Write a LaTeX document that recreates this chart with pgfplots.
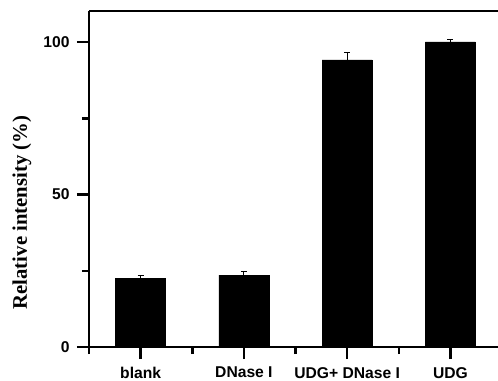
\documentclass[border=0pt]{standalone}
\usepackage{pgfplots}
\pgfplotsset{compat=1.18}
\usepackage{fontspec}
\setmainfont{Liberation Sans}
\newfontfamily\timesf{Liberation Serif}
\begin{document}
\begin{tikzpicture}
\begin{axis}[
  name=ax,
  scale only axis,
  width=409bp, height=336bp,
  xmin=0.5, xmax=4.46,
  ymin=0, ymax=110.2,
  axis x line=box, axis y line=left,
  axis line style={line width=2.5bp, -},
  xtick={1,2,3,4},
  xticklabels={blank,DNase I,UDG+ DNase I,UDG},
  minor xtick={0.5,1.5,2.5,3.5,4.5},
  ytick={0,50,100},
  minor ytick={25,75},
  xtick pos=bottom, ytick pos=left,
  tick align=outside,
  major tick length=12bp,
  minor tick length=7bp,
  every tick/.style={black, line width=2.5bp},
  /pgf/number format/assume math mode=true,
  tick label style={font=\bfseries\fontsize{15.7}{18}\selectfont},
  xticklabel style={yshift=-7bp, inner sep=1bp},
  yticklabel style={xshift=-4bp},
  ylabel={\timesf\bfseries Relative intensity (\%)},
  ylabel style={font=\fontsize{20.8}{24}\selectfont, at={(axis description cs:-0.164,0.4)}, anchor=center},
  clip=false,
]
\addplot[ybar, bar width=50bp, fill=black, draw=black,
  error bars/.cd, y dir=plus, y explicit,
  error bar style={line width=1bp, black},
  error mark options={rotate=90, mark size=3bp, line width=1bp, black}]
coordinates {
  (1,22.5) +- (0,1.1)
  (2,23.6) +- (0,1.2)
  (3,94.2) +- (0,2.3)
  (4,100.1) +- (0,0.9)
};
\end{axis}
\pgfresetboundingbox
\path (ax.south west) ++(-89bp,-34bp) rectangle ++(498bp,381bp);
\end{tikzpicture}
\end{document}
